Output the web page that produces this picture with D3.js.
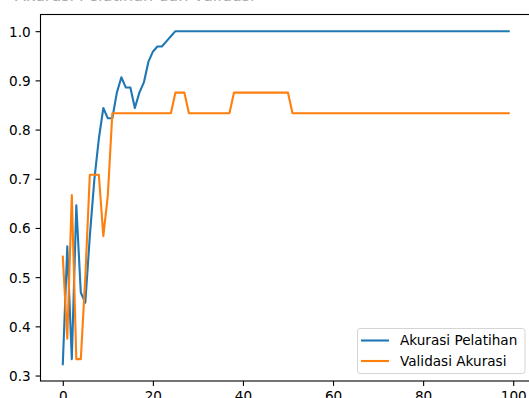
<!DOCTYPE html>
<html><head><meta charset="utf-8">
<script src="https://cdn.jsdelivr.net/npm/d3@7"></script>
<style>
html,body{margin:0;padding:0;background:#fff;overflow:hidden;}
svg{display:block;font-family:"DejaVu Sans",sans-serif;}
</style></head>
<body>
<svg id="chart" width="529" height="398"></svg>
<script>
const titleText = "Akurasi Pelatihan dan Validasi";
const seriesNames = ["Akurasi Pelatihan", "Validasi Akurasi"];
const seriesColors = ["#1f77b4", "#ff7f0e"];
const xTicks = [0, 20, 40, 60, 80, 100];
const yTicks = [0.3, 0.4, 0.5, 0.6, 0.7, 0.8, 0.9, 1.0];

const trainAcc = [
 0.3229, 0.5625, 0.3333, 0.6458, 0.4688, 0.4479, 0.5833, 0.6979, 0.7813, 0.8438,
 0.8229, 0.8229, 0.8750, 0.9063, 0.8854, 0.8854, 0.8438, 0.8750, 0.8958, 0.9375,
 0.9583, 0.9688, 0.9688, 0.9792, 0.9896, 1.0, 1.0, 1.0, 1.0, 1.0,
 1.0, 1.0, 1.0, 1.0, 1.0, 1.0, 1.0, 1.0, 1.0, 1.0,
 1.0, 1.0, 1.0, 1.0, 1.0, 1.0, 1.0, 1.0, 1.0, 1.0,
 1.0, 1.0, 1.0, 1.0, 1.0, 1.0, 1.0, 1.0, 1.0, 1.0,
 1.0, 1.0, 1.0, 1.0, 1.0, 1.0, 1.0, 1.0, 1.0, 1.0,
 1.0, 1.0, 1.0, 1.0, 1.0, 1.0, 1.0, 1.0, 1.0, 1.0,
 1.0, 1.0, 1.0, 1.0, 1.0, 1.0, 1.0, 1.0, 1.0, 1.0,
 1.0, 1.0, 1.0, 1.0, 1.0, 1.0, 1.0, 1.0, 1.0, 1.0
];
const valAcc = [
 0.5417, 0.3750, 0.6667, 0.3333, 0.3333, 0.5000, 0.7083, 0.7083, 0.7083, 0.5833,
 0.6667, 0.8333, 0.8333, 0.8333, 0.8333, 0.8333, 0.8333, 0.8333, 0.8333, 0.8333,
 0.8333, 0.8333, 0.8333, 0.8333, 0.8333, 0.8750, 0.8750, 0.8750, 0.8333, 0.8333,
 0.8333, 0.8333, 0.8333, 0.8333, 0.8333, 0.8333, 0.8333, 0.8333, 0.8750, 0.8750,
 0.8750, 0.8750, 0.8750, 0.8750, 0.8750, 0.8750, 0.8750, 0.8750, 0.8750, 0.8750,
 0.8750, 0.8333, 0.8333, 0.8333, 0.8333, 0.8333, 0.8333, 0.8333, 0.8333, 0.8333,
 0.8333, 0.8333, 0.8333, 0.8333, 0.8333, 0.8333, 0.8333, 0.8333, 0.8333, 0.8333,
 0.8333, 0.8333, 0.8333, 0.8333, 0.8333, 0.8333, 0.8333, 0.8333, 0.8333, 0.8333,
 0.8333, 0.8333, 0.8333, 0.8333, 0.8333, 0.8333, 0.8333, 0.8333, 0.8333, 0.8333,
 0.8333, 0.8333, 0.8333, 0.8333, 0.8333, 0.8333, 0.8333, 0.8333, 0.8333, 0.8333
];

const svg = d3.select("#chart");
const L = 40.5, R = 531, T = 14.5, B = 381;
const x = d3.scaleLinear().domain([-4.95, 103.95]).range([L, R]);
const y = d3.scaleLinear().domain([0.2889, 1.0339]).range([B, T]);

// cropped title (only its bottom edge is visible)
svg.append("text").attr("x", 15).attr("y", 0.7)
  .attr("font-size", 16).attr("fill", "#aaa").text(titleText);

// lines
const line = d3.line().x((d, i) => x(i)).y(d => y(d));
[trainAcc, valAcc].forEach((s, k) => {
  svg.append("path").datum(s).attr("d", line)
    .attr("fill", "none").attr("stroke", seriesColors[k])
    .attr("stroke-width", 2.1).attr("stroke-linejoin", "round").attr("stroke-linecap", "square");
});

// axes
const xAxis = d3.axisBottom(x).tickValues(xTicks).tickSize(4.9).tickPadding(4.9).tickFormat(d3.format("d"));
const yAxis = d3.axisLeft(y).tickValues(yTicks).tickSize(4.9).tickPadding(4.9).tickFormat(d3.format(".1f"));
const gx = svg.append("g").attr("transform", `translate(0,${B})`).call(xAxis);
const gy = svg.append("g").attr("transform", `translate(${L},0)`).call(yAxis);
[gx, gy].forEach(g => {
  g.select(".domain").remove();
  g.selectAll(".tick line").attr("stroke", "#000").attr("stroke-width", 1.1);
  g.selectAll("text").attr("font-size", 13.6).attr("fill", "#000")
    .attr("font-family", "DejaVu Sans");
});
gx.selectAll("text").attr("dy", null).attr("y", 20);
gy.selectAll("text").attr("dy", "0.36em");

// spines
svg.append("rect").attr("x", L).attr("y", T).attr("width", R - L).attr("height", B - T)
  .attr("fill", "none").attr("stroke", "#000").attr("stroke-width", 1.1);

// legend
const lg = svg.append("g");
lg.append("rect").attr("x", 357.5).attr("y", 328.5).attr("width", 167.5).attr("height", 45)
  .attr("rx", 2.5).attr("fill", "#fff").attr("fill-opacity", 0.8)
  .attr("stroke", "#d5d5d5").attr("stroke-width", 1);
seriesNames.forEach((n, k) => {
  const yy = 340.5 + k * 20.5;
  lg.append("line").attr("x1", 361).attr("x2", 389).attr("y1", yy).attr("y2", yy)
    .attr("stroke", seriesColors[k]).attr("stroke-width", 2.1);
  lg.append("text").attr("x", 400).attr("y", yy).attr("dy", "0.36em")
    .attr("font-size", 13.6).attr("fill", "#000").text(n);
});
</script>
</body></html>
